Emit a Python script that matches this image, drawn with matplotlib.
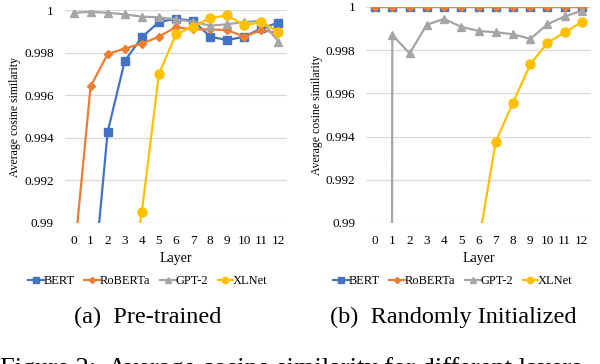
import matplotlib
matplotlib.use("Agg")
import matplotlib.pyplot as plt
import numpy as np

plt.rcParams['font.family'] = ['Liberation Serif', 'DejaVu Serif']

layers = list(range(13))
layer_labels = [str(i) for i in layers]
ytick_vals = [0.99, 0.992, 0.994, 0.996, 0.998, 1.0]
ytick_labels = ["0.99", "0.992", "0.994", "0.996", "0.998", "1"]

# (a) Pre-trained
pt_bert = [0.980, 0.9857, 0.99428, 0.99761, 0.99872, 0.99944, 0.99959, 0.99950, 0.99875, 0.99859, 0.99875, 0.99914, 0.99941]
pt_roberta = [0.9881, 0.99641, 0.99794, 0.99819, 0.99842, 0.99875, 0.99920, 0.99909, 0.99909, 0.99906, 0.99875, 0.99906, 0.99891]
pt_gpt2 = [0.99987, 0.99992, 0.99987, 0.99980, 0.99969, 0.99966, 0.99956, 0.99945, 0.99927, 0.99933, 0.99944, 0.99950, 0.99852]
pt_xlnet = [0.975, 0.978, 0.980, 0.9855, 0.99052, 0.99700, 0.99886, 0.99922, 0.99962, 0.99975, 0.99928, 0.99944, 0.99898]

# (b) Randomly initialized
ri_bert = [1.0] * 13
ri_roberta = [1.0] * 13
ri_gpt2 = [0.5, 0.99871, 0.99785, 0.99918, 0.99945, 0.99908, 0.99889, 0.99883, 0.99874, 0.99852, 0.99920, 0.99957, 0.99982]
ri_xlnet = [0.97, 0.975, 0.979, 0.982, 0.985, 0.987, 0.98906, 0.99377, 0.99557, 0.99734, 0.99835, 0.99882, 0.99932]

series_names = ["BERT", "RoBERTa", "GPT-2", "XLNet"]
colors = ["#4472C4", "#ED7D31", "#A5A5A5", "#FFC000"]
markers = ["s", "D", "^", "o"]
msizes = [5.5, 4.5, 6, 6.5]

fig = plt.figure(figsize=(6.0, 3.64), dpi=100)
ax1 = fig.add_axes([0.1083, 0.3874, 0.37, 0.585])
ax2 = fig.add_axes([0.6108, 0.3874, 0.3735, 0.5934])

def draw(ax, data, xcap, caption):
    handles = []
    for vals, name, c, m, ms in zip(data, series_names, colors, markers, msizes):
        h, = ax.plot(layers, vals, color=c, marker=m, markersize=ms, linewidth=1.6,
                     label=name, clip_on=True, zorder=3)
        handles.append(h)
    ax.set_xlim(-0.5, 12.5)
    ax.set_ylim(0.99, 1.0)
    ax.set_xticks(layers)
    ax.set_xticklabels(layer_labels, fontsize=9.5)
    ax.set_yticks(ytick_vals)
    ax.set_yticklabels(ytick_labels, fontsize=9.5)
    ax.tick_params(axis='y', length=0, pad=8)
    ax.tick_params(axis='x', length=0, pad=9)
    for s in ax.spines.values():
        s.set_visible(False)
    ax.grid(axis='y', color='#D9D9D9', linewidth=0.9, zorder=0)
    ax.set_axisbelow(True)
    ax.set_xlabel("Layer", fontsize=10, labelpad=3)
    ax.set_ylabel("Average cosine similarity", fontsize=8.5, labelpad=2)
    fig.legend(handles=handles, loc='center', bbox_to_anchor=(xcap, 1 - 281 / 364),
               ncol=4, frameon=False, fontsize=9, handlelength=1.25, handletextpad=0.0,
               columnspacing=0.75, markerscale=0.7, borderpad=0.2)
    fig.text(xcap, 1 - 317 / 364, caption, ha='center', va='center', fontsize=17.5)

draw(ax1, [pt_bert, pt_roberta, pt_gpt2, pt_xlnet], 148 / 600, "(a)  Pre-trained")
draw(ax2, [ri_bert, ri_roberta, ri_gpt2, ri_xlnet], 453 / 600, "(b)  Randomly Initialized")

fig.text(0.0, 1 - 375 / 364, "Figure 2:  Average cosine similarity for different layers",
         ha='left', va='baseline', fontsize=19)

fig.savefig("out.png", dpi=100)
